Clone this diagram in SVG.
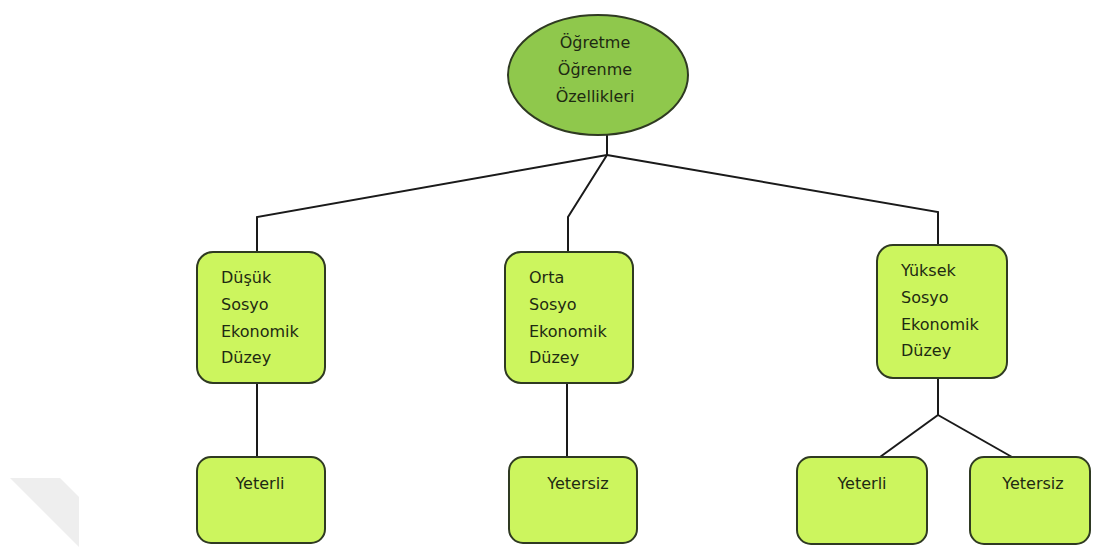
<svg xmlns="http://www.w3.org/2000/svg" width="1093" height="547" viewBox="0 0 1093 547">
<style>
.bg{fill:#ffffff}
.ell{fill:#8fc84c;stroke:#2f3a22;stroke-width:2}
.box{fill:#ccf55e;stroke:#2f3a22;stroke-width:2}
.lbl{font-family:"DejaVu Sans","Liberation Sans",sans-serif;font-size:16px;fill:#1e2a12}
.mid{text-anchor:middle}
.con{fill:none;stroke:#1a1a1a;stroke-width:2}
</style>
<rect class="bg" x="0" y="0" width="1093" height="547"/>
<polygon points="10,478 60,478 79,497 79,547 79,547" fill="#eeeeee"/>
<g id="connectors">
<polyline class="con" points="607,135 607,155"/>
<polyline class="con" points="607,155 257,217 257,252"/>
<polyline class="con" points="607,155 568,217 568,252"/>
<polyline class="con" points="607,155 938,212 938,245"/>
<polyline class="con" points="257,383 257,457"/>
<polyline class="con" points="567,383 567,457"/>
<polyline class="con" points="938,378 938,415"/>
<polyline class="con" points="938,415 880,457"/>
<polyline class="con" points="938,415 1012,457"/>
</g>
<g id="root">
<ellipse class="ell" cx="598" cy="75" rx="90" ry="60"/>
<text class="lbl mid" x="595" y="48">Öğretme</text>
<text class="lbl mid" x="595" y="75">Öğrenme</text>
<text class="lbl mid" x="595" y="102">Özellikleri</text>
</g>
<g id="dusuk">
<rect class="box" x="197" y="252" width="128" height="131" rx="16"/>
<text class="lbl" x="221" y="283">Düşük</text>
<text class="lbl" x="221" y="310">Sosyo</text>
<text class="lbl" x="221" y="337">Ekonomik</text>
<text class="lbl" x="221" y="363">Düzey</text>
</g>
<g id="orta">
<rect class="box" x="505" y="252" width="128" height="131" rx="16"/>
<text class="lbl" x="529" y="283">Orta</text>
<text class="lbl" x="529" y="310">Sosyo</text>
<text class="lbl" x="529" y="337">Ekonomik</text>
<text class="lbl" x="529" y="363">Düzey</text>
</g>
<g id="yuksek">
<rect class="box" x="877" y="245" width="130" height="133" rx="16"/>
<text class="lbl" x="901" y="276">Yüksek</text>
<text class="lbl" x="901" y="303">Sosyo</text>
<text class="lbl" x="901" y="330">Ekonomik</text>
<text class="lbl" x="901" y="356">Düzey</text>
</g>
<g id="dusuk-yeterli">
<rect class="box" x="197" y="457" width="128" height="86" rx="14"/>
<text class="lbl mid" x="260" y="489">Yeterli</text>
</g>
<g id="orta-yetersiz">
<rect class="box" x="509" y="457" width="128" height="86" rx="14"/>
<text class="lbl mid" x="578" y="489">Yetersiz</text>
</g>
<g id="yuksek-yeterli">
<rect class="box" x="797" y="457" width="130" height="87" rx="14"/>
<text class="lbl mid" x="862" y="489">Yeterli</text>
</g>
<g id="yuksek-yetersiz">
<rect class="box" x="970" y="457" width="120" height="87" rx="14"/>
<text class="lbl mid" x="1033" y="489">Yetersiz</text>
</g>
</svg>
